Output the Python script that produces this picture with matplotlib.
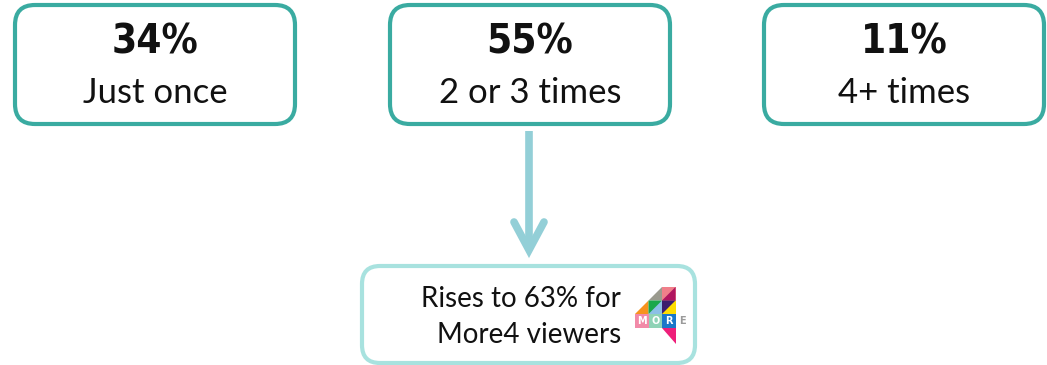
import matplotlib.pyplot as plt
from matplotlib.patches import FancyBboxPatch, Polygon, Rectangle

# frequency split
shares = [34, 55, 11]
labels = ["Just once", "2 or 3 times", "4+ times"]
callout_share = 63
callout_channel = "More4"

TEAL = "#3aaba1"
LIGHT = "#a8e2df"
ARROW = "#93cfd7"

fig = plt.figure(figsize=(10.47, 3.65), dpi=100)
ax = fig.add_axes([0, 0, 1, 1])
ax.set_xlim(0, 1047)
ax.set_ylim(365, 0)
ax.axis("off")

box_left = [15, 390, 764]
box_w, box_h, box_top = 280, 119, 5

for x0, pct, lab in zip(box_left, shares, labels):
    ax.add_patch(FancyBboxPatch((x0, box_top), box_w, box_h,
                                boxstyle="round,pad=0,rounding_size=20",
                                fc="white", ec=TEAL, lw=3))
    cx = x0 + box_w / 2
    ax.text(cx, 43, f"{pct}%", ha="center", va="center", fontsize=29,
            fontweight="bold", family="DejaVu Sans", fontstretch="condensed",
            color="#111111")
    ax.text(cx, 93, lab, ha="center", va="center", fontsize=25,
            family="Lato", color="#111111")

# arrow down to the callout
ax.plot([529, 529], [131, 250], color=ARROW, lw=5.5, solid_capstyle="butt")
ax.plot([514, 529, 544], [222, 250, 222], color=ARROW, lw=5.5,
        solid_capstyle="round", solid_joinstyle="miter")

ax.add_patch(FancyBboxPatch((362, 266), 333, 97,
                            boxstyle="round,pad=0,rounding_size=18",
                            fc="white", ec=LIGHT, lw=3))
ax.text(621, 317, f"Rises to {callout_share}% for\n{callout_channel} viewers",
        ha="right", va="center", multialignment="right", fontsize=20,
        family="Lato", color="#111111", linespacing=1.5)

# channel logo: a "4" built from coloured triangles
c = 13.5
lx, ly = 635, 287


def tri(pts, col):
    ax.add_patch(Polygon([(lx + px * c, ly + py * c) for px, py in pts],
                         closed=True, fc=col, ec="none"))


def sq(i, j, col):
    ax.add_patch(Rectangle((lx + i * c, ly + j * c), c, c, fc=col, ec="none"))


tri([(1, 1), (2, 0), (2, 1)], "#9a9a8e")
sq(2, 0, "#f07f8a")
tri([(2, 1), (3, 0), (3, 1)], "#b0155f")
tri([(0, 2), (1, 1), (1, 2)], "#f7931e")
sq(1, 1, "#8cc0e6")
tri([(1, 1), (2, 1), (1, 2)], "#1aa84a")
sq(2, 1, "#ffdd00")
tri([(2, 1), (3, 1), (2, 2)], "#3c1e6e")
sq(0, 2, "#f28aa8")
sq(1, 2, "#8fd3b6")
sq(2, 2, "#1a77c9")
tri([(2, 3), (3, 3), (3, 4.2)], "#ee1f7a")
for k, ch in enumerate("MOR"):
    ax.text(lx + (k + 0.5) * c, ly + 2.5 * c, ch, ha="center", va="center",
            fontsize=7, fontweight="bold", color="white", family="DejaVu Sans")
ax.text(lx + 3.5 * c, ly + 2.5 * c, "E", ha="center", va="center",
        fontsize=7, fontweight="bold", color="#9a9a9a", family="DejaVu Sans")

fig.savefig("out.png", dpi=100, facecolor="white")
